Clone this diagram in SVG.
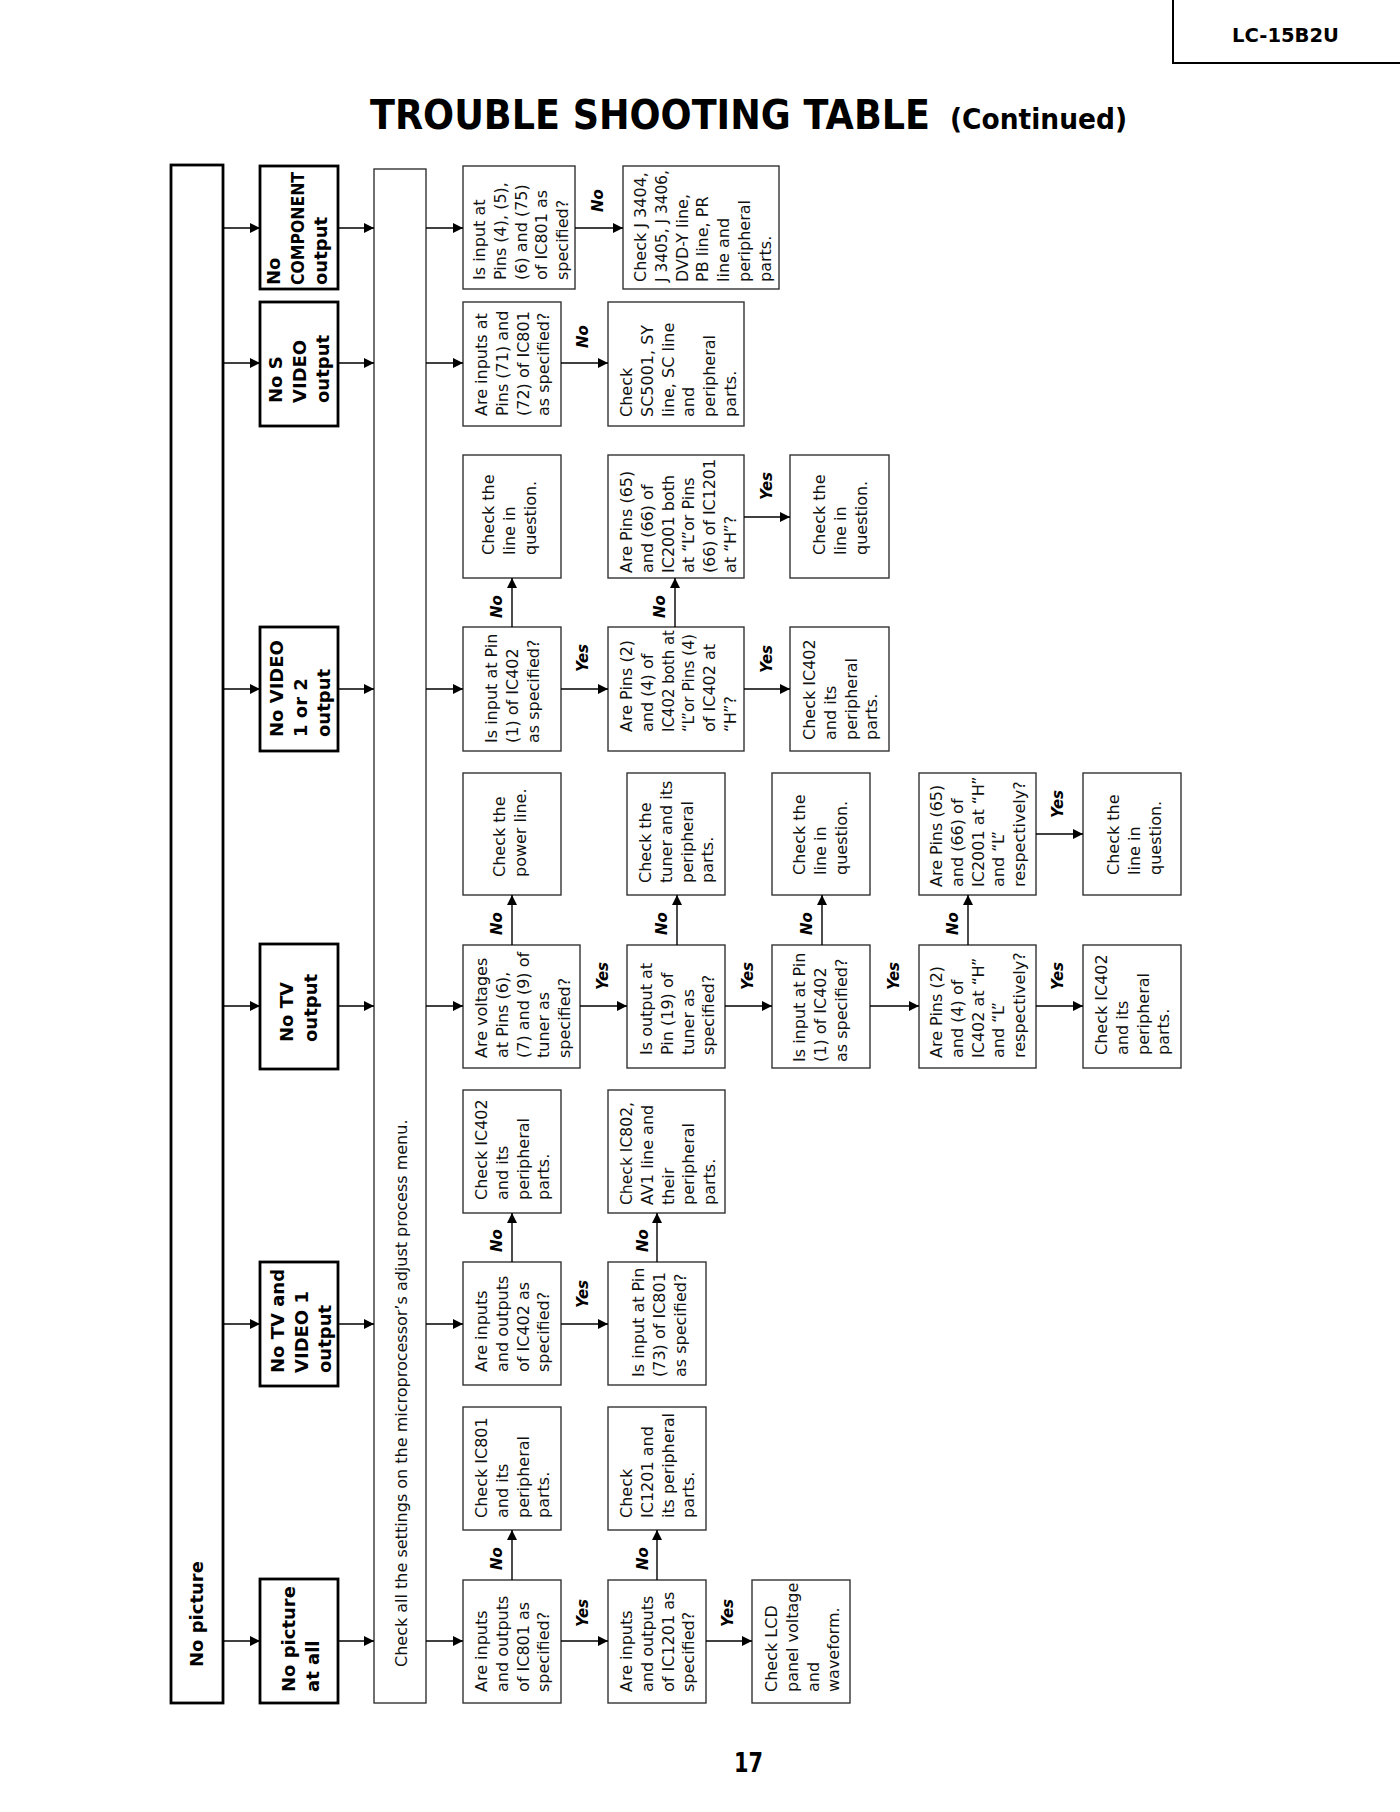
<svg xmlns="http://www.w3.org/2000/svg" width="1400" height="1812" viewBox="0 0 1400 1812">
<style>
.t{font-family:"DejaVu Sans",sans-serif;font-size:16px;fill:#111}
.b{font-family:"DejaVu Sans",sans-serif;font-weight:bold;font-size:18px;fill:#000}
.yn{font-family:"DejaVu Sans",sans-serif;font-weight:bold;font-style:italic;font-size:15px;fill:#000}
.box{fill:#fff;stroke:#333;stroke-width:1.4}
.sbox{fill:#fff;stroke:#000;stroke-width:2.8}
.ttl{font-family:"DejaVu Sans",sans-serif;font-weight:bold;fill:#000}
#conn line{stroke:#000;stroke-width:1.4;marker-end:url(#ah)}
</style>
<defs>
<marker id="ah" markerUnits="userSpaceOnUse" markerWidth="11" markerHeight="11" refX="10" refY="5" orient="auto"><path d="M0,0 L10,5 L0,10 z" fill="#000"/></marker>
</defs>
<rect width="1400" height="1812" fill="#fff"/>
<g id="header">
<path d="M1173,0 V63 H1400" fill="none" stroke="#000" stroke-width="2"/>
<text class="ttl" x="1232" y="42" font-size="20" textLength="107" lengthAdjust="spacingAndGlyphs">LC-15B2U</text>
<text class="ttl" font-size="36" transform="translate(370,129) scale(1,1.11)" textLength="560" lengthAdjust="spacingAndGlyphs">TROUBLE SHOOTING TABLE</text>
<text class="ttl" font-size="26.5" transform="translate(950,129) scale(1,1.1)" textLength="177" lengthAdjust="spacingAndGlyphs">(Continued)</text>
<text class="ttl" font-size="21" transform="translate(734,1772) scale(1,1.3)" textLength="29" lengthAdjust="spacingAndGlyphs">17</text>
</g>
<g id="nopicture"><rect class="sbox" x="171" y="165" width="52" height="1538"/>
<text class="b" font-size="18.5" transform="translate(203,1667) rotate(-90)">No picture</text></g>
<g id="s-component"><rect class="sbox" x="260" y="166" width="78" height="123"/>
<text class="b" transform="translate(280,285) rotate(-90)"><tspan x="0">No</tspan><tspan x="0" dy="23.5" textLength="113" lengthAdjust="spacingAndGlyphs">COMPONENT</tspan><tspan x="0" dy="23.5">output</tspan></text></g>
<g id="s-svideo"><rect class="sbox" x="260" y="302" width="78" height="124"/>
<text class="b" transform="translate(282,403) rotate(-90)"><tspan x="0">No S</tspan><tspan x="0" dy="23.5">VIDEO</tspan><tspan x="0" dy="23.5">output</tspan></text></g>
<g id="s-video12"><rect class="sbox" x="260" y="627" width="78" height="124"/>
<text class="b" transform="translate(283,737) rotate(-90)"><tspan x="0">No VIDEO</tspan><tspan x="0" dy="23.5">1 or 2</tspan><tspan x="0" dy="23.5">output</tspan></text></g>
<g id="s-tv"><rect class="sbox" x="260" y="944" width="78" height="125"/>
<text class="b" transform="translate(293,1042) rotate(-90)"><tspan x="0">No TV</tspan><tspan x="0" dy="23.5">output</tspan></text></g>
<g id="s-tvvideo1"><rect class="sbox" x="260" y="1262" width="78" height="124"/>
<text class="b" transform="translate(284,1373) rotate(-90)"><tspan x="0">No TV and</tspan><tspan x="0" dy="23.5">VIDEO 1</tspan><tspan x="0" dy="23.5">output</tspan></text></g>
<g id="s-pictureall"><rect class="sbox" x="260" y="1579" width="78" height="124"/>
<text class="b" transform="translate(295,1692) rotate(-90)"><tspan x="0">No picture</tspan><tspan x="0" dy="23.5">at all</tspan></text></g>
<g id="settings"><rect class="box" x="374" y="169" width="52" height="1534"/>
<text class="t" transform="translate(407,1667) rotate(-90)">Check all the settings on the microprocessor’s adjust process menu.</text></g>

<g id="r1-q"><rect class="box" x="463" y="166" width="112" height="123"/>
<text class="t" transform="translate(485,280) rotate(-90)"><tspan x="0">Is input at</tspan><tspan x="0" dy="20.8">Pins (4), (5),</tspan><tspan x="0" dy="20.8">(6) and (75)</tspan><tspan x="0" dy="20.8">of IC801 as</tspan><tspan x="0" dy="20.8">specified?</tspan></text></g>
<g id="r1-c"><rect class="box" x="623" y="166" width="156" height="123"/>
<text class="t" transform="translate(646,282) rotate(-90)"><tspan x="0">Check J 3404,</tspan><tspan x="0" dy="20.8" textLength="112" lengthAdjust="spacingAndGlyphs">J 3405, J 3406,</tspan><tspan x="0" dy="20.8">DVD-Y line,</tspan><tspan x="0" dy="20.8">PB line, PR</tspan><tspan x="0" dy="20.8">line and</tspan><tspan x="0" dy="20.8">peripheral</tspan><tspan x="0" dy="20.8">parts.</tspan></text></g>
<g id="r2-q"><rect class="box" x="463" y="302" width="98" height="124"/>
<text class="t" transform="translate(487,416) rotate(-90)"><tspan x="0">Are inputs at</tspan><tspan x="0" dy="20.8">Pins (71) and</tspan><tspan x="0" dy="20.8">(72) of IC801</tspan><tspan x="0" dy="20.8">as specified?</tspan></text></g>
<g id="r2-c"><rect class="box" x="608" y="302" width="136" height="124"/>
<text class="t" transform="translate(632,417) rotate(-90)"><tspan x="0">Check</tspan><tspan x="0" dy="20.8">SC5001, SY</tspan><tspan x="0" dy="20.8">line, SC line</tspan><tspan x="0" dy="20.8">and</tspan><tspan x="0" dy="20.8">peripheral</tspan><tspan x="0" dy="20.8">parts.</tspan></text></g>

<g id="r3-c1"><rect class="box" x="463" y="455" width="98" height="123"/>
<text class="t" transform="translate(494,555) rotate(-90)"><tspan x="0">Check the</tspan><tspan x="0" dy="20.8">line in</tspan><tspan x="0" dy="20.8">question.</tspan></text></g>
<g id="r3-p65"><rect class="box" x="608" y="455" width="136" height="123"/>
<text class="t" transform="translate(632,573) rotate(-90)"><tspan x="0">Are Pins (65)</tspan><tspan x="0" dy="20.8">and (66) of</tspan><tspan x="0" dy="20.8">IC2001 both</tspan><tspan x="0" dy="20.8">at “L”or Pins</tspan><tspan x="0" dy="20.8" textLength="114" lengthAdjust="spacingAndGlyphs">(66) of IC1201</tspan><tspan x="0" dy="20.8">at “H”?</tspan></text></g>
<g id="r3-c2"><rect class="box" x="790" y="455" width="99" height="123"/>
<text class="t" transform="translate(825,555) rotate(-90)"><tspan x="0">Check the</tspan><tspan x="0" dy="20.8">line in</tspan><tspan x="0" dy="20.8">question.</tspan></text></g>
<g id="r3-q1"><rect class="box" x="463" y="627" width="98" height="124"/>
<text class="t" transform="translate(497,743) rotate(-90)"><tspan x="0">Is input at Pin</tspan><tspan x="0" dy="20.8">(1) of IC402</tspan><tspan x="0" dy="20.8">as specified?</tspan></text></g>
<g id="r3-q2"><rect class="box" x="608" y="627" width="136" height="124"/>
<text class="t" transform="translate(632,732) rotate(-90)"><tspan x="0">Are Pins (2)</tspan><tspan x="0" dy="20.8">and (4) of</tspan><tspan x="0" dy="20.8" textLength="102" lengthAdjust="spacingAndGlyphs">IC402 both at</tspan><tspan x="0" dy="20.8" textLength="98" lengthAdjust="spacingAndGlyphs">“L”or Pins (4)</tspan><tspan x="0" dy="20.8">of IC402 at</tspan><tspan x="0" dy="20.8">“H”?</tspan></text></g>
<g id="r3-c3"><rect class="box" x="790" y="627" width="99" height="124"/>
<text class="t" transform="translate(815,740) rotate(-90)"><tspan x="0">Check IC402</tspan><tspan x="0" dy="20.8">and its</tspan><tspan x="0" dy="20.8">peripheral</tspan><tspan x="0" dy="20.8">parts.</tspan></text></g>

<g id="r4-cp"><rect class="box" x="463" y="773" width="98" height="122"/>
<text class="t" transform="translate(505,877) rotate(-90)"><tspan x="0">Check the</tspan><tspan x="0" dy="20.8">power line.</tspan></text></g>
<g id="r4-qv"><rect class="box" x="463" y="945" width="117" height="123"/>
<text class="t" transform="translate(487,1058) rotate(-90)"><tspan x="0">Are voltages</tspan><tspan x="0" dy="20.8">at Pins (6),</tspan><tspan x="0" dy="20.8">(7) and (9) of</tspan><tspan x="0" dy="20.8">tuner as</tspan><tspan x="0" dy="20.8">specified?</tspan></text></g>
<g id="r4-ct"><rect class="box" x="627" y="773" width="98" height="122"/>
<text class="t" transform="translate(651,883) rotate(-90)"><tspan x="0">Check the</tspan><tspan x="0" dy="20.8">tuner and its</tspan><tspan x="0" dy="20.8">peripheral</tspan><tspan x="0" dy="20.8">parts.</tspan></text></g>
<g id="r4-qo"><rect class="box" x="627" y="945" width="98" height="123"/>
<text class="t" transform="translate(652,1055) rotate(-90)"><tspan x="0">Is output at</tspan><tspan x="0" dy="20.8">Pin (19) of</tspan><tspan x="0" dy="20.8">tuner as</tspan><tspan x="0" dy="20.8">specified?</tspan></text></g>
<g id="r4-cl"><rect class="box" x="772" y="773" width="98" height="122"/>
<text class="t" transform="translate(805,875) rotate(-90)"><tspan x="0">Check the</tspan><tspan x="0" dy="20.8">line in</tspan><tspan x="0" dy="20.8">question.</tspan></text></g>
<g id="r4-qi"><rect class="box" x="772" y="945" width="98" height="123"/>
<text class="t" transform="translate(805,1062) rotate(-90)"><tspan x="0">Is input at Pin</tspan><tspan x="0" dy="20.8">(1) of IC402</tspan><tspan x="0" dy="20.8">as specified?</tspan></text></g>
<g id="r4-qp2"><rect class="box" x="919" y="945" width="117" height="123"/>
<text class="t" transform="translate(942,1058) rotate(-90)"><tspan x="0">Are Pins (2)</tspan><tspan x="0" dy="20.8">and (4) of</tspan><tspan x="0" dy="20.8">IC402 at “H”</tspan><tspan x="0" dy="20.8">and “L”</tspan><tspan x="0" dy="20.8">respectively?</tspan></text></g>
<g id="r4-qp65"><rect class="box" x="919" y="773" width="117" height="122"/>
<text class="t" transform="translate(942,887) rotate(-90)"><tspan x="0">Are Pins (65)</tspan><tspan x="0" dy="20.8">and (66) of</tspan><tspan x="0" dy="20.8">IC2001 at “H”</tspan><tspan x="0" dy="20.8">and “L”</tspan><tspan x="0" dy="20.8">respectively?</tspan></text></g>
<g id="r4-cl2"><rect class="box" x="1083" y="773" width="98" height="122"/>
<text class="t" transform="translate(1119,875) rotate(-90)"><tspan x="0">Check the</tspan><tspan x="0" dy="20.8">line in</tspan><tspan x="0" dy="20.8">question.</tspan></text></g>
<g id="r4-ci"><rect class="box" x="1083" y="945" width="98" height="123"/>
<text class="t" transform="translate(1107,1055) rotate(-90)"><tspan x="0">Check IC402</tspan><tspan x="0" dy="20.8">and its</tspan><tspan x="0" dy="20.8">peripheral</tspan><tspan x="0" dy="20.8">parts.</tspan></text></g>

<g id="r5-ci"><rect class="box" x="463" y="1090" width="98" height="123"/>
<text class="t" transform="translate(487,1200) rotate(-90)"><tspan x="0">Check IC402</tspan><tspan x="0" dy="20.8">and its</tspan><tspan x="0" dy="20.8">peripheral</tspan><tspan x="0" dy="20.8">parts.</tspan></text></g>
<g id="r5-q"><rect class="box" x="463" y="1262" width="98" height="123"/>
<text class="t" transform="translate(487,1372) rotate(-90)"><tspan x="0">Are inputs</tspan><tspan x="0" dy="20.8">and outputs</tspan><tspan x="0" dy="20.8">of IC402 as</tspan><tspan x="0" dy="20.8">specified?</tspan></text></g>
<g id="r5-c802"><rect class="box" x="608" y="1090" width="117" height="123"/>
<text class="t" transform="translate(632,1205) rotate(-90)"><tspan x="0" textLength="103" lengthAdjust="spacingAndGlyphs">Check IC802,</tspan><tspan x="0" dy="20.8">AV1 line and</tspan><tspan x="0" dy="20.8">their</tspan><tspan x="0" dy="20.8">peripheral</tspan><tspan x="0" dy="20.8">parts.</tspan></text></g>
<g id="r5-q73"><rect class="box" x="608" y="1262" width="98" height="123"/>
<text class="t" transform="translate(644,1377) rotate(-90)"><tspan x="0">Is input at Pin</tspan><tspan x="0" dy="20.8">(73) of IC801</tspan><tspan x="0" dy="20.8">as specified?</tspan></text></g>

<g id="r6-c801"><rect class="box" x="463" y="1407" width="98" height="123"/>
<text class="t" transform="translate(487,1518) rotate(-90)"><tspan x="0">Check IC801</tspan><tspan x="0" dy="20.8">and its</tspan><tspan x="0" dy="20.8">peripheral</tspan><tspan x="0" dy="20.8">parts.</tspan></text></g>
<g id="r6-q801"><rect class="box" x="463" y="1580" width="98" height="123"/>
<text class="t" transform="translate(487,1692) rotate(-90)"><tspan x="0">Are inputs</tspan><tspan x="0" dy="20.8">and outputs</tspan><tspan x="0" dy="20.8">of IC801 as</tspan><tspan x="0" dy="20.8">specified?</tspan></text></g>
<g id="r6-c1201"><rect class="box" x="608" y="1407" width="98" height="123"/>
<text class="t" transform="translate(632,1518) rotate(-90)"><tspan x="0">Check</tspan><tspan x="0" dy="20.8">IC1201 and</tspan><tspan x="0" dy="20.8" textLength="105" lengthAdjust="spacingAndGlyphs">its peripheral</tspan><tspan x="0" dy="20.8">parts.</tspan></text></g>
<g id="r6-q1201"><rect class="box" x="608" y="1580" width="98" height="123"/>
<text class="t" transform="translate(632,1692) rotate(-90)"><tspan x="0">Are inputs</tspan><tspan x="0" dy="20.8">and outputs</tspan><tspan x="0" dy="20.8">of IC1201 as</tspan><tspan x="0" dy="20.8">specified?</tspan></text></g>
<g id="r6-lcd"><rect class="box" x="752" y="1580" width="98" height="123"/>
<text class="t" transform="translate(777,1692) rotate(-90)"><tspan x="0">Check LCD</tspan><tspan x="0" dy="20.8">panel voltage</tspan><tspan x="0" dy="20.8">and</tspan><tspan x="0" dy="20.8">waveform.</tspan></text></g>

<g id="conn">
<line x1="223" y1="228" x2="260" y2="228"/><line x1="338" y1="228" x2="374" y2="228"/><line x1="426" y1="228" x2="463" y2="228"/>
<line x1="223" y1="363" x2="260" y2="363"/><line x1="338" y1="363" x2="374" y2="363"/><line x1="426" y1="363" x2="463" y2="363"/>
<line x1="223" y1="689" x2="260" y2="689"/><line x1="338" y1="689" x2="374" y2="689"/><line x1="426" y1="689" x2="463" y2="689"/>
<line x1="223" y1="1006" x2="260" y2="1006"/><line x1="338" y1="1006" x2="374" y2="1006"/><line x1="426" y1="1006" x2="463" y2="1006"/>
<line x1="223" y1="1324" x2="260" y2="1324"/><line x1="338" y1="1324" x2="374" y2="1324"/><line x1="426" y1="1324" x2="463" y2="1324"/>
<line x1="223" y1="1641" x2="260" y2="1641"/><line x1="338" y1="1641" x2="374" y2="1641"/><line x1="426" y1="1641" x2="463" y2="1641"/>
<line x1="575" y1="228" x2="623" y2="228"/>
<line x1="561" y1="363" x2="608" y2="363"/>
<line x1="512" y1="627" x2="512" y2="578"/><line x1="561" y1="689" x2="608" y2="689"/><line x1="675" y1="627" x2="675" y2="578"/><line x1="744" y1="689" x2="790" y2="689"/><line x1="744" y1="517" x2="790" y2="517"/>
<line x1="512" y1="945" x2="512" y2="895"/><line x1="580" y1="1006" x2="627" y2="1006"/><line x1="677" y1="945" x2="677" y2="895"/><line x1="725" y1="1006" x2="772" y2="1006"/><line x1="822" y1="945" x2="822" y2="895"/><line x1="870" y1="1006" x2="919" y2="1006"/><line x1="968" y1="945" x2="968" y2="895"/><line x1="1036" y1="1006" x2="1083" y2="1006"/><line x1="1036" y1="834" x2="1083" y2="834"/>
<line x1="512" y1="1262" x2="512" y2="1213"/><line x1="561" y1="1324" x2="608" y2="1324"/><line x1="657" y1="1262" x2="657" y2="1213"/>
<line x1="512" y1="1580" x2="512" y2="1530"/><line x1="561" y1="1641" x2="608" y2="1641"/><line x1="657" y1="1580" x2="657" y2="1530"/><line x1="706" y1="1641" x2="752" y2="1641"/>
</g>
<g id="labels">
<text class="yn" transform="translate(603,212) rotate(-90)">No</text>
<text class="yn" transform="translate(588,348) rotate(-90)">No</text>
<text class="yn" transform="translate(502,618) rotate(-90)">No</text>
<text class="yn" transform="translate(588,672) rotate(-90)">Yes</text>
<text class="yn" transform="translate(665,618) rotate(-90)">No</text>
<text class="yn" transform="translate(772,673) rotate(-90)">Yes</text>
<text class="yn" transform="translate(772,500) rotate(-90)">Yes</text>
<text class="yn" transform="translate(502,935) rotate(-90)">No</text>
<text class="yn" transform="translate(608,990) rotate(-90)">Yes</text>
<text class="yn" transform="translate(667,935) rotate(-90)">No</text>
<text class="yn" transform="translate(753,990) rotate(-90)">Yes</text>
<text class="yn" transform="translate(812,935) rotate(-90)">No</text>
<text class="yn" transform="translate(899,990) rotate(-90)">Yes</text>
<text class="yn" transform="translate(958,935) rotate(-90)">No</text>
<text class="yn" transform="translate(1063,990) rotate(-90)">Yes</text>
<text class="yn" transform="translate(1063,818) rotate(-90)">Yes</text>
<text class="yn" transform="translate(502,1252) rotate(-90)">No</text>
<text class="yn" transform="translate(588,1308) rotate(-90)">Yes</text>
<text class="yn" transform="translate(648,1252) rotate(-90)">No</text>
<text class="yn" transform="translate(502,1570) rotate(-90)">No</text>
<text class="yn" transform="translate(588,1627) rotate(-90)">Yes</text>
<text class="yn" transform="translate(648,1570) rotate(-90)">No</text>
<text class="yn" transform="translate(733,1627) rotate(-90)">Yes</text>
</g>
</svg>
